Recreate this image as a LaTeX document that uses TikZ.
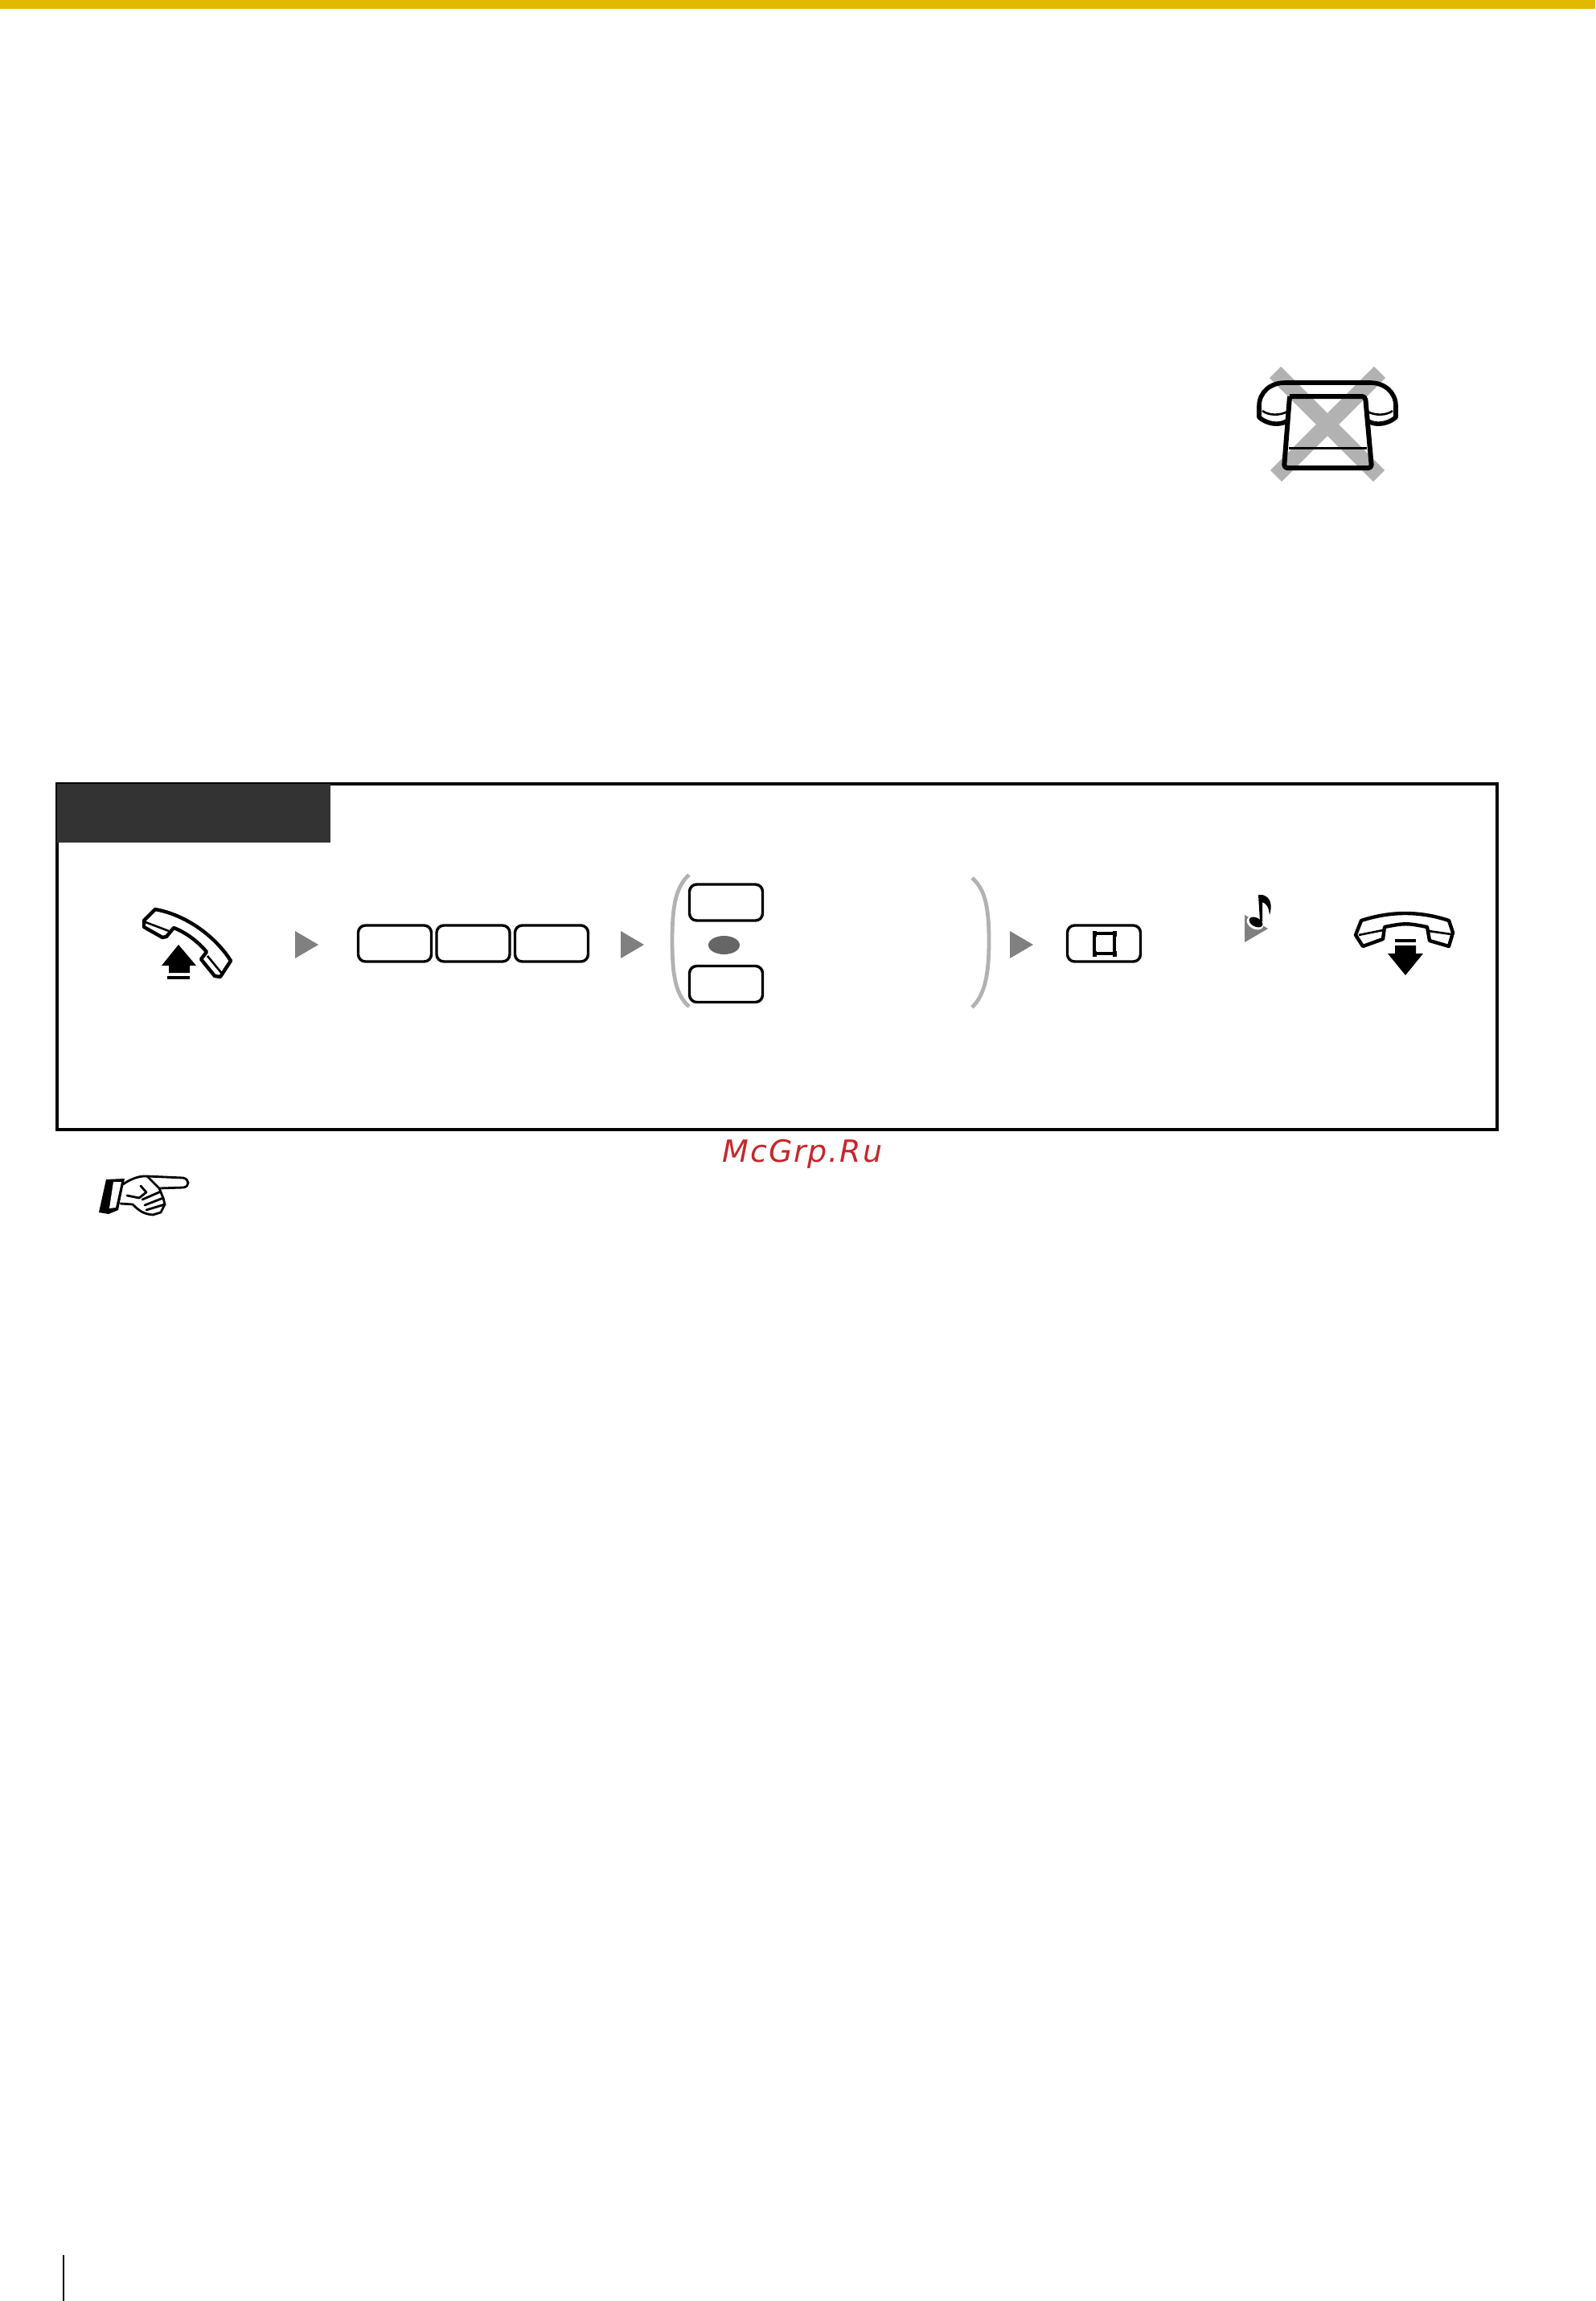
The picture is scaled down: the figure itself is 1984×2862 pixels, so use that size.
\documentclass[tikz,border=0pt]{standalone}
\usepackage{fontspec}
\usetikzlibrary{calc}
\newfontfamily\wmfont[LetterSpace=5]{DejaVu Sans}
\definecolor{barcolor}{HTML}{E2B900}
\definecolor{tabcolor}{HTML}{333333}
\definecolor{wmred}{HTML}{C8262B}

\begin{document}
\begin{tikzpicture}[x=1pt, y=-1pt]
        % ================= styles =================
        \tikzset{
            % keypad keys
            key_box/.style={draw=black, line width=3.4pt, rounded corners=9pt, fill=white, minimum width=91pt, minimum height=45pt, inner sep=0pt},
            % grey step arrows
            step_arrow/.style={fill=black!50, draw=none},
            % grey parentheses
            paren_line/.style={line width=4.8pt, black!30},
            % handset outlines
            phone_line/.style={line width=4.4pt, black, line join=round},
            % black up and down arrows
            lift_arrow/.style={fill=black, draw=none},
            % grey cross behind the telephone
            cross_line/.style={line width=20pt, black!30},
            % hand outline
            hand_line/.style={line width=2.8pt, black, line join=round, line cap=round}
        }

        % ================= page =================
        \useasboundingbox (0,0) rectangle (1984,2862);
        \fill[barcolor] (0,0) rectangle (1984,11);
        \draw[line width=2pt] (79,2805) -- (79,2862);

        % ================= telephone with cross =================
        \draw[cross_line] (1586,463) -- (1715,592) (1716,463) -- (1587,592);
        \draw[line width=5.6pt, line join=round] (1600,524) .. controls (1590,530) and (1575,527) .. (1566,519) -- (1566,505) .. controls (1566,488) and (1580,476) .. (1598,476) -- (1704,476) .. controls (1722,476) and (1736,488) .. (1736,505) -- (1736,519) .. controls (1727,527) and (1712,530) .. (1702,524);
        \draw[line width=2.6pt] (1570,511) .. controls (1578,517) and (1592,517) .. (1601,512);
        \draw[line width=2.6pt] (1732,511) .. controls (1724,517) and (1710,517) .. (1701,512);
        \draw[line width=6pt, line join=round, rounded corners=4pt] (1604,493) -- (1698,493) -- (1706,582) -- (1597,582) -- (1604,493);
        \draw[line width=3pt] (1603,557) -- (1700,557);

        % ================= operation box =================
        \draw[line width=3.6pt] (71,975) rectangle (1862,1405);
        \fill[tabcolor] (71,975) rectangle (411,1048);

        % ----- going off-hook -----
        \draw[phone_line] (193,1131) -- (179,1145) -- (179,1153) -- (202,1166) -- (207,1165) -- (216,1154) .. controls (232,1160) and (247,1172) .. (257,1184) -- (250,1193) -- (267,1214) -- (274,1215) -- (287,1195) .. controls (268,1165) and (232,1138) .. (193,1131) -- cycle;
        \draw[line width=2.6pt] (181,1147) -- (210,1158) (258,1189) -- (277,1212);
        \fill[lift_arrow] (222,1175) -- (244,1201) -- (236,1201) -- (236,1210) -- (210,1210) -- (210,1201) -- (201,1201) -- cycle;
        \fill[black] (208,1214) rectangle (236,1218);

        % ----- step arrows -----
        \fill[step_arrow] (367,1158) -- (396,1175) -- (367,1192) -- cycle;
        \fill[step_arrow] (772,1158) -- (801,1175) -- (772,1192) -- cycle;
        \fill[step_arrow] (1256,1158) -- (1285,1175) -- (1256,1192) -- cycle;

        % ----- keys -----
        \node[key_box] (key_a) at (491,1173.5) {};
        \node[key_box] (key_b) at (588.5,1173.5) {};
        \node[key_box] (key_c) at (686,1173.5) {};
        \node[key_box] (key_top) at (903,1122.5) {};
        \node[key_box] (key_bottom) at (903,1224) {};
        \node[key_box] (key_store) at (1373,1173.5) {};

        % ----- or mark and parentheses -----
        \fill[black!60] (900.5,1175.5) ellipse (19.5pt and 11.5pt);
        \draw[paren_line] (857,1088) .. controls (841,1103) and (836,1125) .. (836,1170) .. controls (836,1215) and (841,1238) .. (857,1252);
        \draw[paren_line] (1209,1092) .. controls (1224,1105) and (1230,1125) .. (1230,1170) .. controls (1230,1215) and (1224,1238) .. (1209,1253);

        % ----- store symbol -----
        \draw[line width=3.6pt] (1361,1161) rectangle (1386,1186);
        \foreach \px/\py in {1361/1161, 1386/1161, 1361/1186, 1386/1186}
            \fill (\px-2.5,\py-3.5) rectangle (\px+2.5,\py+3.5);

        % ----- tone -----
        \fill[step_arrow] (1548,1138) -- (1577,1155) -- (1548,1172) -- cycle;
        \fill[white, rotate around={-28:(1561,1148)}] (1561,1148) ellipse (11pt and 7.5pt);
        \fill[black, rotate around={-28:(1562,1147)}] (1562,1147) ellipse (9pt and 5.5pt);
        \fill[black] (1567,1146) -- (1565,1113) -- (1570,1113) .. controls (1582,1116) and (1582,1128) .. (1579,1138) .. controls (1578,1128) and (1575,1124) .. (1570,1122) -- (1570,1146) -- cycle;

        % ----- going on-hook -----
        \draw[phone_line] (1693,1145) .. controls (1730,1133) and (1766,1133) .. (1802,1145) -- (1807,1160) -- (1802,1177) -- (1778,1170) -- (1775,1153) .. controls (1750,1148) and (1747,1148) .. (1722,1153) -- (1720,1168) -- (1695,1177) -- (1686,1163) -- cycle;
        \draw[line width=2.6pt] (1690,1163) -- (1720,1157) (1777,1158) -- (1805,1162);
        \fill[black] (1735,1168) rectangle (1761,1172);
        \fill[lift_arrow] (1748,1213) -- (1726,1186) -- (1735,1186) -- (1735,1176) -- (1761,1176) -- (1761,1186) -- (1770,1186) -- cycle;

        % ================= watermark and hand =================
        \node[text=wmred, font=\wmfont\itshape\fontsize{38}{38}\selectfont, inner sep=0pt] (watermark) at (998,1435) {McGrp.Ru};

        \fill[black] (132,1467) -- (155,1466) -- (147,1505) -- (135,1510) -- (123,1508) -- cycle;
        \fill[white] (141,1470) -- (151,1470) -- (144,1502) -- (136,1503) -- cycle;
        \draw[hand_line] (153,1473) .. controls (160,1468) and (172,1462) .. (183,1463) -- (228,1465) .. controls (236,1467) and (236,1476) .. (228,1477) -- (198,1478);
        \draw[hand_line] (183,1463) -- (198,1478) -- (203,1490) -- (205,1498) -- (200,1508) -- (190,1511) .. controls (178,1510) and (172,1505) .. (165,1498) -- (150,1497);
        \draw[hand_line] (175,1475) -- (182,1483) -- (173,1490) -- (158,1487);
        \draw[hand_line] (177,1492) -- (200,1482) (180,1499) -- (203,1490) (182,1505) -- (205,1498);
\end{tikzpicture}
\end{document}
